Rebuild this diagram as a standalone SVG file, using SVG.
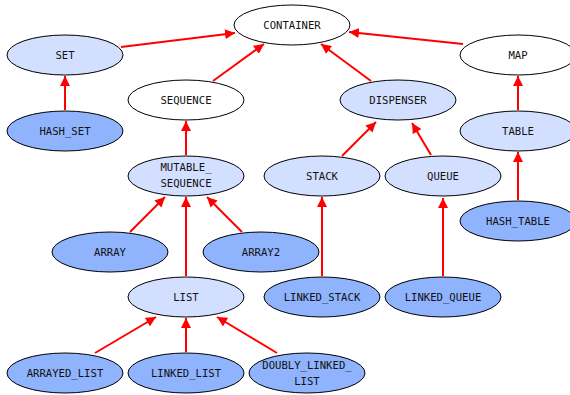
<svg xmlns="http://www.w3.org/2000/svg" width="570" height="395" viewBox="0 0 570 395">
<defs>
<marker id="ah" viewBox="0 0 10 10" refX="10" refY="5" markerWidth="10" markerHeight="10" markerUnits="userSpaceOnUse" orient="auto">
<path d="M0,0 L10,5 L0,10 z" fill="#ff0000"/>
</marker>
<style>
.n ellipse{stroke:#000;stroke-width:1}
.w ellipse{fill:#ffffff}
.l ellipse{fill:#d3dfff}
.d ellipse{fill:#8fb3fd}
text{font-family:"DejaVu Sans Mono",monospace;font-size:10.6px;fill:#111;text-anchor:middle}
.e line{stroke:#ff0000;stroke-width:2;marker-end:url(#ah)}
</style>
</defs>
<rect width="570" height="395" fill="#fff"/>
<g class="e" id="connectors">
<line x1="121" y1="47" x2="235" y2="33"/>
<line x1="213" y1="81" x2="264" y2="44"/>
<line x1="371" y1="81" x2="321" y2="44"/>
<line x1="463" y1="44" x2="349" y2="32"/>
<line x1="65" y1="110" x2="65" y2="76"/>
<line x1="186" y1="155" x2="186" y2="121"/>
<line x1="342" y1="156" x2="376" y2="122"/>
<line x1="431" y1="155" x2="412" y2="123"/>
<line x1="518" y1="110" x2="518" y2="76"/>
<line x1="518" y1="200" x2="518" y2="152"/>
<line x1="130" y1="232" x2="165" y2="197"/>
<line x1="242" y1="232" x2="207" y2="197"/>
<line x1="186" y1="276" x2="186" y2="197"/>
<line x1="322" y1="276" x2="322" y2="197"/>
<line x1="443" y1="276" x2="443" y2="198"/>
<line x1="95" y1="353" x2="156" y2="317"/>
<line x1="186" y1="352" x2="186" y2="318"/>
<line x1="277" y1="353" x2="217" y2="317"/>
</g>
<g id="CONTAINER" class="n w"><ellipse cx="292" cy="25" rx="58" ry="20"/><text x="292" y="29">CONTAINER</text></g>
<g id="SET" class="n l"><ellipse cx="65" cy="55" rx="58" ry="20"/><text x="65" y="59">SET</text></g>
<g id="MAP" class="n w"><ellipse cx="518" cy="55" rx="58" ry="20"/><text x="518" y="59">MAP</text></g>
<g id="SEQUENCE" class="n w"><ellipse cx="186" cy="100" rx="58" ry="20"/><text x="186" y="104">SEQUENCE</text></g>
<g id="DISPENSER" class="n l"><ellipse cx="398" cy="100" rx="58" ry="20"/><text x="398" y="104">DISPENSER</text></g>
<g id="HASH_SET" class="n d"><ellipse cx="65" cy="131" rx="58" ry="20"/><text x="65" y="135">HASH_SET</text></g>
<g id="TABLE" class="n l"><ellipse cx="518" cy="131" rx="58" ry="20"/><text x="518" y="135">TABLE</text></g>
<g id="MUTABLE_SEQUENCE" class="n l"><ellipse cx="186" cy="176" rx="58" ry="20"/><text x="186" y="171">MUTABLE_</text><text x="186" y="187">SEQUENCE</text></g>
<g id="STACK" class="n l"><ellipse cx="322" cy="176" rx="58" ry="20"/><text x="322" y="180">STACK</text></g>
<g id="QUEUE" class="n l"><ellipse cx="443" cy="176" rx="58" ry="20"/><text x="443" y="180">QUEUE</text></g>
<g id="HASH_TABLE" class="n d"><ellipse cx="518" cy="221" rx="58" ry="20"/><text x="518" y="225">HASH_TABLE</text></g>
<g id="ARRAY" class="n d"><ellipse cx="110" cy="252" rx="58" ry="20"/><text x="110" y="256">ARRAY</text></g>
<g id="ARRAY2" class="n d"><ellipse cx="261" cy="252" rx="58" ry="20"/><text x="261" y="256">ARRAY2</text></g>
<g id="LIST" class="n l"><ellipse cx="186" cy="297" rx="58" ry="20"/><text x="186" y="301">LIST</text></g>
<g id="LINKED_STACK" class="n d"><ellipse cx="322" cy="297" rx="58" ry="20"/><text x="322" y="301">LINKED_STACK</text></g>
<g id="LINKED_QUEUE" class="n d"><ellipse cx="443" cy="297" rx="58" ry="20"/><text x="443" y="301">LINKED_QUEUE</text></g>
<g id="ARRAYED_LIST" class="n d"><ellipse cx="65" cy="373" rx="58" ry="20"/><text x="65" y="377">ARRAYED_LIST</text></g>
<g id="LINKED_LIST" class="n d"><ellipse cx="186" cy="373" rx="58" ry="20"/><text x="186" y="377">LINKED_LIST</text></g>
<g id="DOUBLY_LINKED_LIST" class="n d"><ellipse cx="307" cy="373" rx="58" ry="20"/><text x="307" y="369">DOUBLY_LINKED_</text><text x="307" y="385">LIST</text></g>
</svg>
